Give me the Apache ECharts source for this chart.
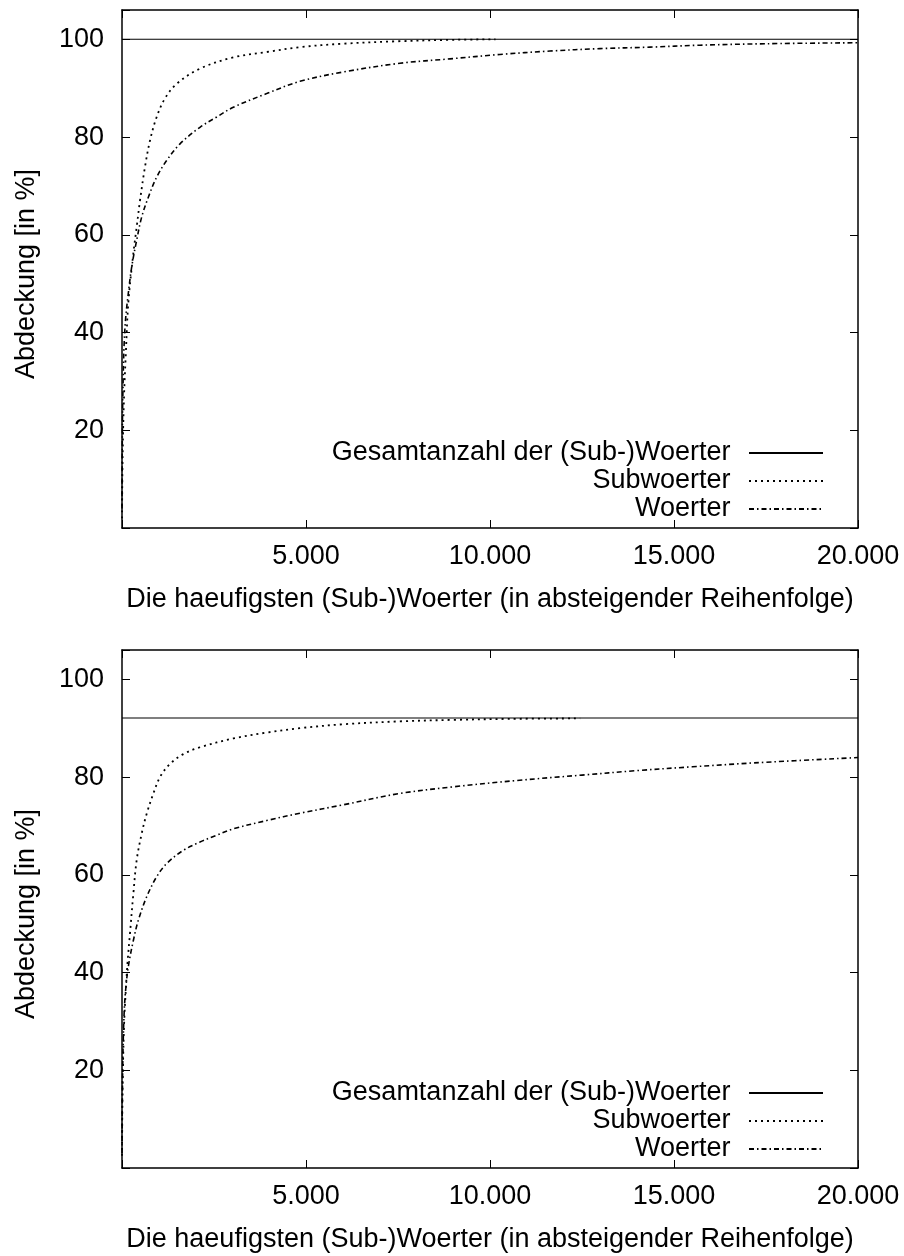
<!DOCTYPE html>
<html>
<head>
<meta charset="utf-8">
<script src="https://cdn.jsdelivr.net/npm/echarts@6/dist/echarts.min.js"></script>
<style>
  html, body { margin: 0; padding: 0; background: #fff; }
  #chart { width: 904px; height: 1256px; }
</style>
</head>
<body>
<div id="chart"></div>
<script>
const seriesNames = ['Gesamtanzahl der (Sub-)Woerter', 'Subwoerter', 'Woerter']
const xAxisTitle = 'Die haeufigsten (Sub-)Woerter (in absteigender Reihenfolge)'
const yAxisTitle = 'Abdeckung [in %]'

// upper plot
const totalTopX = [0, 20000]
const totalTopY = [100, 100]
const subTopX = [1, 10, 30, 60, 100, 171, 307, 399, 489, 625, 761, 942, 1168, 1486, 2119, 3025, 3931, 4836, 6000, 7500, 9000, 10150]
const subTopY = [2, 11, 20, 28, 35, 46, 56.1, 61.6, 67.0, 73.9, 79.3, 84.1, 87.9, 90.9, 94.0, 96.3, 97.4, 98.4, 99.1, 99.6, 99.9, 100]
const wordTopX = [1, 10, 30, 60, 100, 154, 263, 399, 534, 716, 942, 1213, 1576, 2119, 2572, 3025, 3931, 4836, 6000, 7553, 8912, 10270, 11629, 12987, 14346, 15705, 17516, 20000]
const wordTopY = [4, 20, 30, 38, 43, 46.9, 53.4, 58.9, 63.6, 67.7, 71.8, 75.2, 78.6, 82.0, 84.1, 86.1, 88.9, 91.4, 93.3, 95.1, 96.0, 96.9, 97.6, 98.1, 98.4, 98.8, 99.1, 99.3]

// lower plot
const totalBotX = [0, 20000]
const totalBotY = [92.1, 92.1]
const subBotX = [1, 10, 30, 60, 100, 150, 217, 307, 399, 534, 671, 851, 1032, 1304, 1666, 2119, 3025, 3931, 4836, 6000, 7553, 9000, 10500, 12450]
const subBotY = [2.5, 13, 22, 30, 36, 42, 48, 56, 63, 68.4, 72.5, 76.6, 80.0, 82.7, 84.7, 86.1, 87.9, 89.1, 90.0, 90.8, 91.4, 91.7, 91.9, 92.0]
const wordBotX = [1, 10, 30, 60, 100, 171, 307, 444, 671, 942, 1213, 1666, 2119, 2572, 3025, 3931, 4836, 6000, 7515, 9000, 10738, 12500, 13957, 15500, 17180, 20000]
const wordBotY = [3, 15, 25, 32, 36.5, 41.2, 46.5, 50.7, 55.5, 59.6, 62.3, 65.0, 66.7, 68.1, 69.4, 71.1, 72.6, 74.3, 76.6, 78.0, 79.3, 80.4, 81.3, 82.1, 82.9, 84.0]

const FONT = 'Liberation Sans, Arial, sans-serif'
const FS = 27

function zip(xs, ys) {
  return xs.map((x, i) => [x, ys[i]])
}

function thousands(v) {
  if (v === 0) return ''
  return String(v).replace(/\B(?=(\d{3})+(?!\d))/g, '.')
}

const axisLine = { show: true, onZero: false, lineStyle: { color: '#000', width: 1.5 } }
const tick = { show: true, inside: true, length: 8, lineStyle: { color: '#000', width: 1 } }

function xAxes(grid) {
  return [
    {
      type: 'value', gridIndex: grid, position: 'bottom', min: 0, max: 20000, interval: 5000,
      axisLine, axisTick: tick, splitLine: { show: false },
      axisLabel: { color: '#000', fontSize: FS, fontFamily: FONT, margin: 15, formatter: thousands },
      name: xAxisTitle, nameLocation: 'middle', nameGap: 58,
      nameTextStyle: { color: '#000', fontSize: FS, fontFamily: FONT },
    },
    {
      type: 'value', gridIndex: grid, position: 'top', min: 0, max: 20000, interval: 5000,
      axisLine, axisTick: tick, splitLine: { show: false }, axisLabel: { show: false },
    },
  ]
}

function yAxes(grid) {
  return [
    {
      type: 'value', gridIndex: grid, position: 'left', min: 0, max: 106, interval: 20,
      axisLine, axisTick: tick, splitLine: { show: false },
      axisLabel: {
        color: '#000', fontSize: FS, fontFamily: FONT, margin: 18,
        formatter: (v) => (v > 0 && v % 20 === 0 ? String(v) : ''),
      },
      name: yAxisTitle, nameLocation: 'middle', nameGap: 82, nameRotate: 90,
      nameTextStyle: { color: '#000', fontSize: FS, fontFamily: FONT, padding: [0, 10, 0, 0] },
    },
    {
      type: 'value', gridIndex: grid, position: 'right', min: 0, max: 106, interval: 20,
      axisLine, axisTick: tick, splitLine: { show: false }, axisLabel: { show: false },
    },
  ]
}

function curves(xIdx, yIdx, total, sub, word) {
  const common = { type: 'line', xAxisIndex: xIdx, yAxisIndex: yIdx, symbol: 'none', silent: true }
  return [
    { ...common, name: seriesNames[0], data: total, lineStyle: { color: '#000', width: 1.1, type: 'solid' } },
    { ...common, name: seriesNames[1], data: sub, smooth: 0.35,
      lineStyle: { color: '#000', width: 1.8, type: [2, 4] } },
    { ...common, name: seriesNames[2], data: word, smooth: 0.35,
      lineStyle: { color: '#000', width: 1.6, type: [5, 3, 1.5, 3] } },
  ]
}

function legendAt(top) {
  return {
    orient: 'vertical', right: 80, top, align: 'right', padding: 0,
    itemWidth: 74, itemHeight: 28, itemGap: 0, selectedMode: false,
    data: seriesNames,
    formatter: (n) => n + '\u2002',
    itemStyle: { opacity: 0 },
    textStyle: { color: '#000', fontSize: FS, fontFamily: FONT, lineHeight: 28 },
  }
}

const chart = echarts.init(document.getElementById('chart'))
chart.setOption({
  animation: false,
  backgroundColor: '#fff',
  grid: [
    { left: 122, right: 46, top: 10, height: 518 },
    { left: 122, right: 46, top: 650, height: 518 },
  ],
  xAxis: [...xAxes(0), ...xAxes(1)],
  yAxis: [...yAxes(0), ...yAxes(1)],
  legend: [legendAt(439), legendAt(1079)],
  series: [
    ...curves(0, 0, zip(totalTopX, totalTopY), zip(subTopX, subTopY), zip(wordTopX, wordTopY)),
    ...curves(2, 2, zip(totalBotX, totalBotY), zip(subBotX, subBotY), zip(wordBotX, wordBotY)),
  ],
})
</script>
</body>
</html>
